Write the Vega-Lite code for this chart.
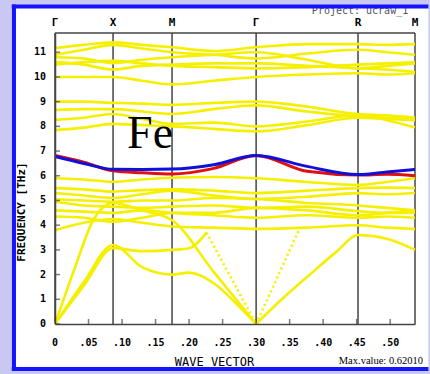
{
  "$schema": "https://vega.github.io/schema/vega-lite/v6.json",
  "width": 360,
  "height": 291,
  "autosize": "none",
  "padding": {"left": 55, "top": 33, "right": 15, "bottom": 50},
  "background": "#c8c8f2",
  "config": {
    "view": {"stroke": null},
    "axis": {"grid": false, "domainColor": "#444", "domainWidth": 1.5, "labels": false, "ticks": false,
      "titleFont": "DejaVu Sans Mono", "titleFontWeight": "normal", "titleColor": "#000"}
  },
  "datasets": {
    "frame": [{"k": -0.0612, "k2": 0.557, "f": -1.82, "f2": 12.85}],
    "edges": [
      {"k": -0.0612, "k2": -0.0612, "f": -1.9, "f2": 12.93},
      {"k": -0.0645, "k2": 0.557, "f": 12.85, "f2": 12.85},
      {"k": -0.0645, "k2": 0.557, "f": -1.82, "f2": -1.82}
    ],
    "notes": [
      {"k": 0.455, "f": 12.55, "label": "Project: ucraw_1"}
    ],
    "maxv": [{"k": 0.549, "f": -1.5, "label": "Max.value: 0.62010"}],
    "fe": [{"k": 0.1075, "f": 7.13, "label": "Fe"}],
    "xt": [
      {"k": 0, "label": "0"}, {"k": 0.05, "label": ".05"}, {"k": 0.1, "label": ".10"}, {"k": 0.15, "label": ".15"},
      {"k": 0.2, "label": ".20"}, {"k": 0.25, "label": ".25"}, {"k": 0.3, "label": ".30"}, {"k": 0.35, "label": ".35"},
      {"k": 0.4, "label": ".40"}, {"k": 0.45, "label": ".45"}, {"k": 0.5, "label": ".50"}
    ],
    "yt": [
      {"f": 0, "label": "0"}, {"f": 1, "label": "1"}, {"f": 2, "label": "2"}, {"f": 3, "label": "3"},
      {"f": 4, "label": "4"}, {"f": 5, "label": "5"}, {"f": 6, "label": "6"}, {"f": 7, "label": "7"},
      {"f": 8, "label": "8"}, {"f": 9, "label": "9"}, {"f": 10, "label": "10"}, {"f": 11, "label": "11"}
    ],
    "sym": [
      {"k": 0, "name": "Γ"}, {"k": 0.0866, "name": "X"}, {"k": 0.1746, "name": "M"},
      {"k": 0.3, "name": "Γ"}, {"k": 0.452, "name": "R"}, {"k": 0.537, "name": "M"}
    ],
    "bands": [
      {"b":"T1","k":0,"f":11.17},{"b":"T1","k":0.043,"f":11.3},{"b":"T1","k":0.0866,"f":11.4},{"b":"T1","k":0.13,"f":11.3},{"b":"T1","k":0.1746,"f":11.2},{"b":"T1","k":0.237,"f":11.05},{"b":"T1","k":0.3,"f":11.2},{"b":"T1","k":0.376,"f":11.33},{"b":"T1","k":0.452,"f":11.33},{"b":"T1","k":0.495,"f":11.3},{"b":"T1","k":0.537,"f":11.33},
      {"b":"T2","k":0,"f":10.9},{"b":"T2","k":0.043,"f":11.1},{"b":"T2","k":0.0866,"f":11.3},{"b":"T2","k":0.13,"f":11.15},{"b":"T2","k":0.1746,"f":11.0},{"b":"T2","k":0.237,"f":10.9},{"b":"T2","k":0.3,"f":10.75},{"b":"T2","k":0.376,"f":10.95},{"b":"T2","k":0.452,"f":11.1},{"b":"T2","k":0.495,"f":11.0},{"b":"T2","k":0.537,"f":10.9},
      {"b":"T3","k":0,"f":10.8},{"b":"T3","k":0.043,"f":10.75},{"b":"T3","k":0.0866,"f":10.56},{"b":"T3","k":0.13,"f":10.7},{"b":"T3","k":0.1746,"f":10.8},{"b":"T3","k":0.237,"f":10.9},{"b":"T3","k":0.3,"f":11.0},{"b":"T3","k":0.376,"f":10.7},{"b":"T3","k":0.452,"f":10.35},{"b":"T3","k":0.495,"f":10.45},{"b":"T3","k":0.537,"f":10.55},
      {"b":"T4","k":0,"f":10.6},{"b":"T4","k":0.043,"f":10.5},{"b":"T4","k":0.0866,"f":10.3},{"b":"T4","k":0.13,"f":10.45},{"b":"T4","k":0.1746,"f":10.5},{"b":"T4","k":0.237,"f":10.55},{"b":"T4","k":0.3,"f":10.55},{"b":"T4","k":0.376,"f":10.45},{"b":"T4","k":0.452,"f":10.35},{"b":"T4","k":0.495,"f":10.3},{"b":"T4","k":0.537,"f":10.2},
      {"b":"T5","k":0,"f":10.0},{"b":"T5","k":0.043,"f":10.0},{"b":"T5","k":0.0866,"f":10.0},{"b":"T5","k":0.13,"f":9.85},{"b":"T5","k":0.1746,"f":9.7},{"b":"T5","k":0.237,"f":9.85},{"b":"T5","k":0.3,"f":10.0},{"b":"T5","k":0.376,"f":10.1},{"b":"T5","k":0.452,"f":10.15},{"b":"T5","k":0.495,"f":10.1},{"b":"T5","k":0.537,"f":10.15},
      {"b":"T6","k":0,"f":10.5},{"b":"T6","k":0.043,"f":10.6},{"b":"T6","k":0.0866,"f":10.65},{"b":"T6","k":0.13,"f":10.55},{"b":"T6","k":0.1746,"f":10.45},{"b":"T6","k":0.237,"f":10.4},{"b":"T6","k":0.3,"f":10.35},{"b":"T6","k":0.376,"f":10.4},{"b":"T6","k":0.452,"f":10.5},{"b":"T6","k":0.495,"f":10.55},{"b":"T6","k":0.537,"f":10.6},
      {"b":"M1","k":0,"f":9.0},{"b":"M1","k":0.043,"f":9.0},{"b":"M1","k":0.0866,"f":8.95},{"b":"M1","k":0.13,"f":8.92},{"b":"M1","k":0.1746,"f":8.87},{"b":"M1","k":0.237,"f":8.95},{"b":"M1","k":0.3,"f":9.0},{"b":"M1","k":0.376,"f":8.8},{"b":"M1","k":0.452,"f":8.5},{"b":"M1","k":0.495,"f":8.45},{"b":"M1","k":0.537,"f":8.35},
      {"b":"M2","k":0,"f":8.66},{"b":"M2","k":0.043,"f":8.7},{"b":"M2","k":0.0866,"f":8.7},{"b":"M2","k":0.13,"f":8.6},{"b":"M2","k":0.1746,"f":8.5},{"b":"M2","k":0.237,"f":8.7},{"b":"M2","k":0.3,"f":8.85},{"b":"M2","k":0.376,"f":8.6},{"b":"M2","k":0.452,"f":8.4},{"b":"M2","k":0.495,"f":8.35},{"b":"M2","k":0.537,"f":8.3},
      {"b":"M3","k":0,"f":8.26},{"b":"M3","k":0.043,"f":8.35},{"b":"M3","k":0.0866,"f":8.5},{"b":"M3","k":0.13,"f":8.3},{"b":"M3","k":0.1746,"f":8.1},{"b":"M3","k":0.237,"f":8.15},{"b":"M3","k":0.3,"f":8.0},{"b":"M3","k":0.376,"f":8.2},{"b":"M3","k":0.452,"f":8.45},{"b":"M3","k":0.495,"f":8.25},{"b":"M3","k":0.537,"f":7.95},
      {"b":"M4","k":0,"f":7.85},{"b":"M4","k":0.043,"f":7.95},{"b":"M4","k":0.0866,"f":8.1},{"b":"M4","k":0.13,"f":8.05},{"b":"M4","k":0.1746,"f":8.0},{"b":"M4","k":0.237,"f":7.9},{"b":"M4","k":0.3,"f":7.8},{"b":"M4","k":0.376,"f":8.05},{"b":"M4","k":0.452,"f":8.35},{"b":"M4","k":0.495,"f":8.3},{"b":"M4","k":0.537,"f":8.25},
      {"b":"L1","k":0,"f":5.9},{"b":"L1","k":0.043,"f":5.85},{"b":"L1","k":0.0866,"f":5.76},{"b":"L1","k":0.13,"f":5.85},{"b":"L1","k":0.1746,"f":5.92},{"b":"L1","k":0.237,"f":5.95},{"b":"L1","k":0.3,"f":5.9},{"b":"L1","k":0.376,"f":5.75},{"b":"L1","k":0.452,"f":5.63},{"b":"L1","k":0.495,"f":5.75},{"b":"L1","k":0.537,"f":5.9},
      {"b":"L2","k":0,"f":5.5},{"b":"L2","k":0.043,"f":5.45},{"b":"L2","k":0.0866,"f":5.36},{"b":"L2","k":0.13,"f":5.42},{"b":"L2","k":0.1746,"f":5.45},{"b":"L2","k":0.237,"f":5.4},{"b":"L2","k":0.3,"f":5.3},{"b":"L2","k":0.376,"f":5.4},{"b":"L2","k":0.452,"f":5.5},{"b":"L2","k":0.495,"f":5.52},{"b":"L2","k":0.537,"f":5.5},
      {"b":"L3","k":0,"f":5.3},{"b":"L3","k":0.043,"f":5.2},{"b":"L3","k":0.0866,"f":5.1},{"b":"L3","k":0.13,"f":5.25},{"b":"L3","k":0.1746,"f":5.4},{"b":"L3","k":0.237,"f":5.2},{"b":"L3","k":0.3,"f":5.06},{"b":"L3","k":0.376,"f":5.15},{"b":"L3","k":0.452,"f":5.3},{"b":"L3","k":0.495,"f":5.25},{"b":"L3","k":0.537,"f":5.3},
      {"b":"L4","k":0,"f":5.05},{"b":"L4","k":0.043,"f":5.0},{"b":"L4","k":0.0866,"f":4.95},{"b":"L4","k":0.13,"f":5.0},{"b":"L4","k":0.1746,"f":5.0},{"b":"L4","k":0.237,"f":5.1},{"b":"L4","k":0.3,"f":5.06},{"b":"L4","k":0.376,"f":4.9},{"b":"L4","k":0.452,"f":4.8},{"b":"L4","k":0.495,"f":4.7},{"b":"L4","k":0.537,"f":4.6},
      {"b":"L5","k":0,"f":4.95},{"b":"L5","k":0.043,"f":4.8},{"b":"L5","k":0.0866,"f":4.75},{"b":"L5","k":0.13,"f":4.7},{"b":"L5","k":0.1746,"f":4.75},{"b":"L5","k":0.237,"f":4.8},{"b":"L5","k":0.3,"f":4.7},{"b":"L5","k":0.376,"f":4.75},{"b":"L5","k":0.452,"f":4.57},{"b":"L5","k":0.495,"f":4.5},{"b":"L5","k":0.537,"f":4.5},
      {"b":"L6","k":0,"f":4.6},{"b":"L6","k":0.043,"f":4.55},{"b":"L6","k":0.0866,"f":4.5},{"b":"L6","k":0.13,"f":4.6},{"b":"L6","k":0.1746,"f":4.5},{"b":"L6","k":0.237,"f":4.4},{"b":"L6","k":0.3,"f":4.3},{"b":"L6","k":0.376,"f":4.4},{"b":"L6","k":0.452,"f":4.3},{"b":"L6","k":0.495,"f":4.35},{"b":"L6","k":0.537,"f":4.3},
      {"b":"L7","k":0,"f":4.35},{"b":"L7","k":0.043,"f":4.3},{"b":"L7","k":0.0866,"f":4.14},{"b":"L7","k":0.13,"f":4.3},{"b":"L7","k":0.1746,"f":4.5},{"b":"L7","k":0.237,"f":4.5},{"b":"L7","k":0.3,"f":4.7},{"b":"L7","k":0.376,"f":4.6},{"b":"L7","k":0.452,"f":4.4},{"b":"L7","k":0.495,"f":4.5},{"b":"L7","k":0.537,"f":4.6},
      {"b":"L8","k":0,"f":3.8},{"b":"L8","k":0.043,"f":4.1},{"b":"L8","k":0.0866,"f":4.25},{"b":"L8","k":0.13,"f":4.1},{"b":"L8","k":0.1746,"f":3.95},{"b":"L8","k":0.237,"f":3.9},{"b":"L8","k":0.3,"f":3.85},{"b":"L8","k":0.376,"f":3.9},{"b":"L8","k":0.452,"f":4.0},{"b":"L8","k":0.495,"f":3.9},{"b":"L8","k":0.537,"f":3.85},
      {"b":"A1a","k":0,"f":0},{"b":"A1a","k":0.043,"f":1.7},{"b":"A1a","k":0.0866,"f":3.2},{"b":"A1a","k":0.13,"f":2.3},{"b":"A1a","k":0.1746,"f":2.0},{"b":"A1a","k":0.2,"f":2.08},{"b":"A1a","k":0.237,"f":1.65},{"b":"A1a","k":0.27,"f":0.84},{"b":"A1a","k":0.3,"f":0},
      {"b":"A1b","k":0.3,"f":0},{"b":"A1b","k":0.34,"f":1.04},{"b":"A1b","k":0.376,"f":1.9},{"b":"A1b","k":0.42,"f":2.93},{"b":"A1b","k":0.452,"f":3.6},{"b":"A1b","k":0.495,"f":3.45},{"b":"A1b","k":0.537,"f":3.0},
      {"b":"A2","k":0,"f":0},{"b":"A2","k":0.043,"f":1.55},{"b":"A2","k":0.0866,"f":3.07},{"b":"A2","k":0.13,"f":2.95},{"b":"A2","k":0.1746,"f":3.0},{"b":"A2","k":0.2,"f":3.07},{"b":"A2","k":0.226,"f":3.7},
      {"b":"A3","k":0,"f":0},{"b":"A3","k":0.03,"f":2.3},{"b":"A3","k":0.057,"f":4.2},{"b":"A3","k":0.0866,"f":4.9},{"b":"A3","k":0.13,"f":4.6},{"b":"A3","k":0.1746,"f":4.2},{"b":"A3","k":0.237,"f":2.1},{"b":"A3","k":0.3,"f":0}
    ],
    "dotted": [
      {"b":"D1","k":0.226,"f":3.7},{"b":"D1","k":0.3,"f":0},
      {"b":"D2","k":0.3,"f":0},{"b":"D2","k":0.366,"f":3.94}
    ],
    "red": [
      {"k":0,"f":6.82},{"k":0.043,"f":6.55},{"k":0.0866,"f":6.2},{"k":0.13,"f":6.12},{"k":0.1746,"f":6.07},{"k":0.237,"f":6.3},{"k":0.3,"f":6.82},{"k":0.376,"f":6.18},{"k":0.452,"f":6.03},{"k":0.495,"f":6.06},{"k":0.537,"f":6.0}
    ],
    "blue": [
      {"k":0,"f":6.78},{"k":0.043,"f":6.5},{"k":0.0866,"f":6.26},{"k":0.13,"f":6.25},{"k":0.1746,"f":6.27},{"k":0.237,"f":6.45},{"k":0.3,"f":6.82},{"k":0.376,"f":6.38},{"k":0.452,"f":6.05},{"k":0.495,"f":6.15},{"k":0.537,"f":6.26}
    ]
  },
  "layer": [
    {
      "data": {"name": "frame"},
      "mark": {"type": "rect", "fill": "#ffffff"},
      "encoding": {
        "x": {"field": "k", "type": "quantitative", "scale": {"domain": [0, 0.537], "nice": false, "zero": false},
          "axis": {"zindex": 1, "title": "WAVE VECTOR", "titleFontSize": 12,
            "titleX": 159, "titleY": 37, "titleBaseline": "middle"}},
        "x2": {"field": "k2"},
        "y": {"field": "f", "type": "quantitative", "scale": {"domain": [0, 11.78], "nice": false, "zero": false},
          "axis": {"zindex": 1, "title": "FREQUENCY [THz]", "titleFontSize": 11, "titleFontWeight": "bold", "titleX": -34, "titleY": 178.5, "titleAngle": -90,
            "titleAlign": "center", "titleBaseline": "middle"}},
        "y2": {"field": "f2"}
      }
    },
    {
      "data": {"name": "notes"},
      "mark": {"type": "text", "font": "DejaVu Sans Mono", "fontSize": 10, "color": "#555", "align": "center", "baseline": "alphabetic"},
      "encoding": {
        "x": {"field": "k", "type": "quantitative", "scale": {"domain": [0, 0.537], "nice": false, "zero": false}},
        "y": {"field": "f", "type": "quantitative", "scale": {"domain": [0, 11.78], "nice": false, "zero": false}},
        "text": {"field": "label"}
      }
    },
    {
      "data": {"name": "edges"},
      "mark": {"type": "rule", "color": "#1414ff", "strokeWidth": 4},
      "encoding": {
        "x": {"field": "k", "type": "quantitative", "scale": {"domain": [0, 0.537], "nice": false, "zero": false}},
        "x2": {"field": "k2"},
        "y": {"field": "f", "type": "quantitative", "scale": {"domain": [0, 11.78], "nice": false, "zero": false}},
        "y2": {"field": "f2"}
      }
    },
    {
      "data": {"name": "sym"},
      "mark": {"type": "rule", "color": "#444", "strokeWidth": 1.5},
      "encoding": {
        "x": {"field": "k", "type": "quantitative", "scale": {"domain": [0, 0.537], "nice": false, "zero": false}}
      }
    },
    {
      "data": {"values": [{}]},
      "mark": {"type": "rule", "color": "#444", "strokeWidth": 1.5},
      "encoding": {
        "y": {"datum": 11.78, "type": "quantitative", "scale": {"domain": [0, 11.78], "nice": false, "zero": false}}
      }
    },
    {
      "data": {"name": "bands"},
      "mark": {"type": "line", "color": "#f5f000", "strokeWidth": 2.6, "interpolate": "monotone"},
      "encoding": {
        "x": {"field": "k", "type": "quantitative", "scale": {"domain": [0, 0.537], "nice": false, "zero": false}},
        "y": {"field": "f", "type": "quantitative", "scale": {"domain": [0, 11.78], "nice": false, "zero": false}},
        "detail": {"field": "b"}
      }
    },
    {
      "data": {"name": "dotted"},
      "mark": {"type": "line", "color": "#f5f000", "strokeWidth": 2.6, "strokeDash": [2, 3]},
      "encoding": {
        "x": {"field": "k", "type": "quantitative", "scale": {"domain": [0, 0.537], "nice": false, "zero": false}},
        "y": {"field": "f", "type": "quantitative", "scale": {"domain": [0, 11.78], "nice": false, "zero": false}},
        "detail": {"field": "b"}
      }
    },
    {
      "data": {"name": "red"},
      "mark": {"type": "line", "color": "#e01010", "strokeWidth": 3, "interpolate": "monotone"},
      "encoding": {
        "x": {"field": "k", "type": "quantitative", "scale": {"domain": [0, 0.537], "nice": false, "zero": false}},
        "y": {"field": "f", "type": "quantitative", "scale": {"domain": [0, 11.78], "nice": false, "zero": false}}
      }
    },
    {
      "data": {"name": "blue"},
      "mark": {"type": "line", "color": "#1010d8", "strokeWidth": 3, "interpolate": "monotone"},
      "encoding": {
        "x": {"field": "k", "type": "quantitative", "scale": {"domain": [0, 0.537], "nice": false, "zero": false}},
        "y": {"field": "f", "type": "quantitative", "scale": {"domain": [0, 11.78], "nice": false, "zero": false}}
      }
    },
    {
      "data": {"name": "xt"},
      "mark": {"type": "tick", "orient": "vertical", "color": "#444", "size": 5, "thickness": 1.5, "yOffset": -2.5},
      "encoding": {
        "x": {"field": "k", "type": "quantitative", "scale": {"domain": [0, 0.537], "nice": false, "zero": false}},
        "y": {"datum": 0, "type": "quantitative", "scale": {"domain": [0, 11.78], "nice": false, "zero": false}}
      }
    },
    {
      "data": {"name": "xt"},
      "mark": {"type": "text", "font": "DejaVu Sans Mono", "fontWeight": "bold", "fontSize": 10, "color": "#000", "align": "center", "baseline": "middle", "yOffset": 19},
      "encoding": {
        "x": {"field": "k", "type": "quantitative", "scale": {"domain": [0, 0.537], "nice": false, "zero": false}},
        "y": {"datum": 0, "type": "quantitative", "scale": {"domain": [0, 11.78], "nice": false, "zero": false}},
        "text": {"field": "label"}
      }
    },
    {
      "data": {"name": "yt"},
      "mark": {"type": "tick", "orient": "horizontal", "color": "#444", "size": 5, "thickness": 1.5, "xOffset": 2.5},
      "encoding": {
        "x": {"datum": 0, "type": "quantitative", "scale": {"domain": [0, 0.537], "nice": false, "zero": false}},
        "y": {"field": "f", "type": "quantitative", "scale": {"domain": [0, 11.78], "nice": false, "zero": false}}
      }
    },
    {
      "data": {"name": "yt"},
      "mark": {"type": "text", "font": "DejaVu Sans Mono", "fontWeight": "bold", "fontSize": 10, "color": "#000", "align": "right", "baseline": "middle", "xOffset": -9},
      "encoding": {
        "x": {"datum": 0, "type": "quantitative", "scale": {"domain": [0, 0.537], "nice": false, "zero": false}},
        "y": {"field": "f", "type": "quantitative", "scale": {"domain": [0, 11.78], "nice": false, "zero": false}},
        "text": {"field": "label"}
      }
    },
    {
      "data": {"name": "fe"},
      "mark": {"type": "text", "font": "Liberation Serif", "fontSize": 46, "color": "#000", "align": "left", "baseline": "alphabetic"},
      "encoding": {
        "x": {"field": "k", "type": "quantitative", "scale": {"domain": [0, 0.537], "nice": false, "zero": false}},
        "y": {"field": "f", "type": "quantitative", "scale": {"domain": [0, 11.78], "nice": false, "zero": false}},
        "text": {"field": "label"}
      }
    },
    {
      "data": {"name": "sym"},
      "mark": {"type": "text", "font": "DejaVu Sans Mono", "fontWeight": "bold", "fontSize": 11, "color": "#000", "align": "center", "baseline": "middle"},
      "encoding": {
        "x": {"field": "k", "type": "quantitative", "scale": {"domain": [0, 0.537], "nice": false, "zero": false}},
        "y": {"datum": 12.2, "type": "quantitative", "scale": {"domain": [0, 11.78], "nice": false, "zero": false}},
        "text": {"field": "name"}
      }
    },
    {
      "data": {"name": "maxv"},
      "mark": {"type": "text", "font": "Liberation Serif", "fontSize": 10.5, "color": "#000", "align": "right", "baseline": "middle"},
      "encoding": {
        "x": {"field": "k", "type": "quantitative", "scale": {"domain": [0, 0.537], "nice": false, "zero": false}},
        "y": {"field": "f", "type": "quantitative", "scale": {"domain": [0, 11.78], "nice": false, "zero": false}},
        "text": {"field": "label"}
      }
    }
  ]
}
